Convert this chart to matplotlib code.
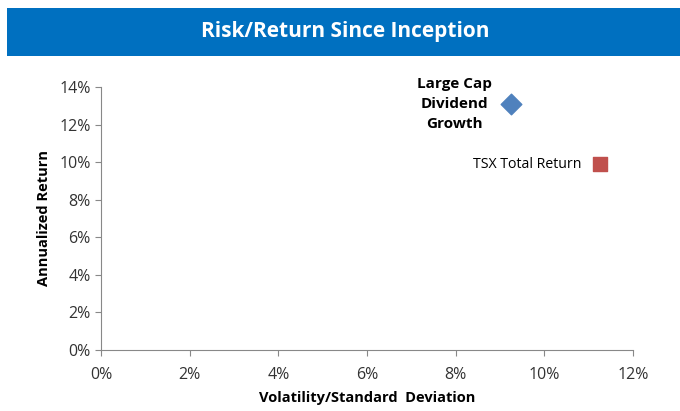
import matplotlib
matplotlib.use('Agg')
import matplotlib.pyplot as plt
from matplotlib.patches import Rectangle
from matplotlib.ticker import PercentFormatter

names = ['Large Cap\nDividend\nGrowth', 'TSX Total Return']
volatility = [9.25, 11.25]
annual_return = [13.1, 9.9]
markers = ['D', 's']
colors = ['#4F81BD', '#C0504D']

plt.rcParams['font.family'] = ['Open Sans', 'DejaVu Sans']

fig = plt.figure(figsize=(6.8, 4.11), dpi=100)

# blue title bar
fig.patches.append(Rectangle((7 / 680, 1 - 56 / 411), 673 / 680, 48 / 411,
                             transform=fig.transFigure, facecolor='#0070C0',
                             edgecolor='none'))
fig.text(0.507, 1 - 32 / 411, 'Risk/Return Since Inception', color='white',
         fontsize=15, fontweight='bold', ha='center', va='center')

ax = fig.add_axes([101 / 680, 1 - 350 / 411, 532 / 680, 263 / 411])
ax.scatter(volatility[0], annual_return[0], marker='D', s=110, color=colors[0], zorder=3)
ax.scatter(volatility[1], annual_return[1], marker='s', s=90, color=colors[1], zorder=3)

ax.annotate(names[0], (volatility[0], annual_return[0]), xytext=(-41, 0),
            textcoords='offset points', ha='center', va='center',
            fontsize=11, fontweight='bold', linespacing=1.55)
ax.annotate(names[1], (volatility[1], annual_return[1]), xytext=(-13, 0),
            textcoords='offset points', ha='right', va='center', fontsize=10.2)

ax.set_xlim(0, 12)
ax.set_ylim(0, 14)
ax.set_xticks(range(0, 13, 2))
ax.set_yticks(range(0, 15, 2))
ax.xaxis.set_major_formatter(PercentFormatter(decimals=0))
ax.yaxis.set_major_formatter(PercentFormatter(decimals=0))

for side in ['top', 'right']:
    ax.spines[side].set_visible(False)
for side in ['left', 'bottom']:
    ax.spines[side].set_color('#888888')
ax.tick_params(colors='#888888', labelcolor='#333333', labelsize=11.5,
               direction='out', length=4)
ax.tick_params(axis='x', pad=8)

ax.set_xlabel('Volatility/Standard  Deviation', fontsize=10.5, fontweight='bold', labelpad=6)
ax.set_ylabel('Annualized Return', fontsize=10.5, fontweight='bold', labelpad=6)

fig.savefig('out.png', dpi=100)
